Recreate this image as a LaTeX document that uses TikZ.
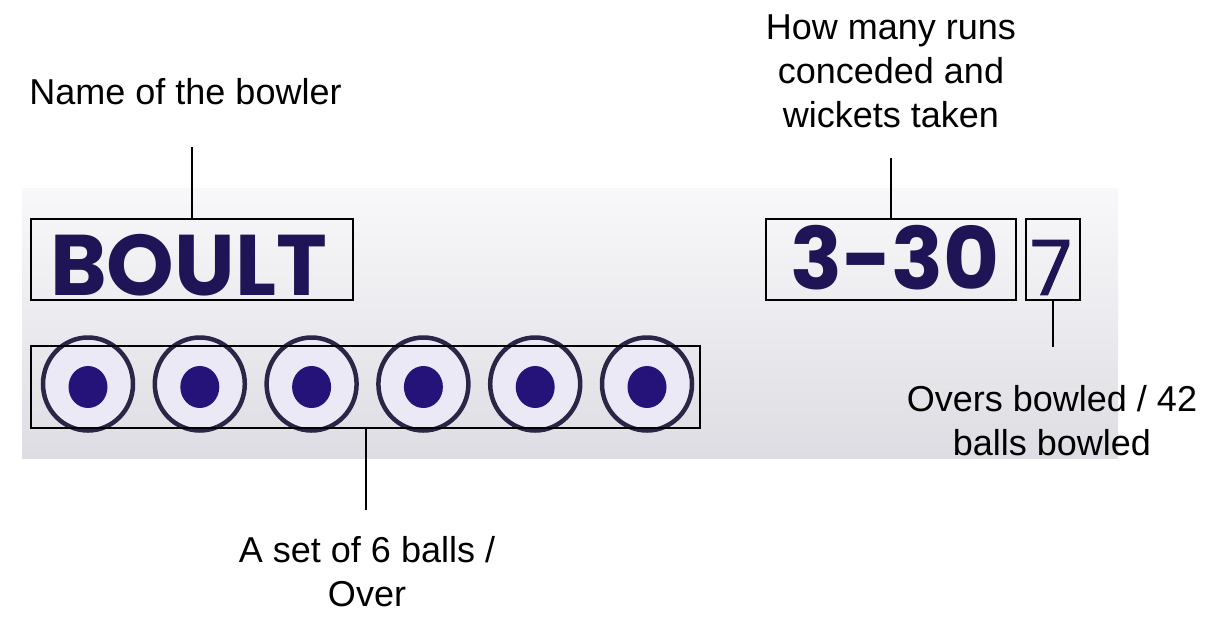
\documentclass[tikz,border=0pt]{standalone}
\usepackage{fontspec}
\setmainfont{Liberation Sans}
\newfontfamily\scorefont{Poppins}
\newfontfamily\sevenfont{Poppins}[FakeBold=1.2]
\definecolor{navy}{HTML}{1E1456}
\definecolor{ringc}{HTML}{2A2648}
\definecolor{dotc}{HTML}{26137A}
\definecolor{ballfill}{HTML}{ECE9F7}
\definecolor{paneltop}{HTML}{F8F7F9}
\definecolor{panelbot}{HTML}{DEDDE3}
\tikzset{
  box/.style={draw=black, line width=2pt, inner sep=0pt},
  label/.style={font=\fontsize{36}{44}\selectfont, align=center, inner sep=0pt, anchor=base},
  conn/.style={draw=black, line width=2pt},
  score/.style={font=\scorefont\bfseries\fontsize{86}{86}\selectfont, text=navy, inner sep=0pt},
}
\begin{document}
\begin{tikzpicture}[x=1pt,y=-1pt]
\useasboundingbox (0,0) rectangle (1212,638);
\fill[white] (0,0) rectangle (1212,638);
% panel
\shade[top color=paneltop, bottom color=panelbot] (22,188) rectangle (1118,458);
% balls
\foreach \i in {0,...,5} {
  \pgfmathsetmacro{\cx}{88+111.8*\i}
  \draw[ringc, line width=4.5pt, fill=ballfill] (\cx,384) ellipse [x radius=45, y radius=46.5];
  \fill[dotc] (\cx,387) ellipse [x radius=19.5, y radius=21];
}
% texts on panel
\node[score] (boult) at (188.5,265) {BOULT};
\node[score] (runs) at (895,257.5) {3-30};
\node[score, font=\sevenfont\fontsize{76}{76}\selectfont] (overs) at (1051,267.5) {7};
% boxes
\node[box, minimum width=322pt, minimum height=81pt] (boultbox) at (192,259.5) {};
\node[box, minimum width=669pt, minimum height=82pt] (ballsbox) at (365.5,387) {};
\node[box, minimum width=250pt, minimum height=81pt] (runsbox) at (891,259.5) {};
\node[box, minimum width=54pt, minimum height=81pt] (oversbox) at (1053,259.5) {};
% labels (anchor base = baseline of last line)
\node[label] (lname) at (185.5,104) {Name of the bowler};
\node[label] (lruns) at (891,127) {How many runs\\conceded and\\wickets taken};
\node[label] (lovers) at (1052,455) {Overs bowled / 42\\balls bowled};
\node[label] (lballs) at (367,606) {A set of 6 balls /\\Over};
% connector ends
\coordinate (cname) at (192,147);
\coordinate (cruns) at (891,158);
\coordinate (covers) at (1053,347);
\coordinate (cballs) at (366,510);
\draw[conn] (boultbox.north) -- (cname);
\draw[conn] (runsbox.north) -- (cruns);
\draw[conn] (oversbox.south) -- (covers);
\draw[conn] (ballsbox.south -| cballs) -- (cballs);
\end{tikzpicture}
\end{document}
